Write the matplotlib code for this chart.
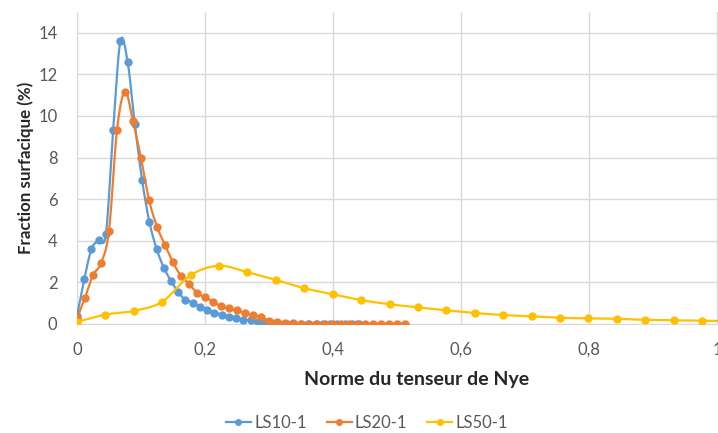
import numpy as np
from matplotlib import pyplot as plt
from matplotlib.ticker import FuncFormatter

# x step of each series (Nye tensor norm)
step_ls10 = 0.0113
step_ls20 = 0.0125
step_ls50 = 0.0444

ls10 = [0.4, 2.15, 3.6, 4.04, 4.34, 9.33, 13.6, 12.6, 9.6, 6.92,
        4.92, 3.62, 2.71, 2.07, 1.52, 1.17, 1.03, 0.83, 0.68, 0.55,
        0.45, 0.36, 0.28, 0.21, 0.17, 0.12, 0.05, 0.03, 0.02, 0.01,
        0.01, 0.01, 0.01, 0.0, 0.0, 0.0, 0.0, 0.0, 0.0, 0.0]
ls20 = [0.27, 1.26, 2.35, 2.93, 4.49, 9.33, 11.17, 9.76, 7.97, 5.96,
        4.68, 3.8, 2.96, 2.31, 1.93, 1.5, 1.28, 1.08, 0.85, 0.75,
        0.67, 0.51, 0.44, 0.32, 0.16, 0.11, 0.06, 0.03, 0.02, 0.02,
        0.02, 0.02, 0.02, 0.02, 0.02, 0.02, 0.02, 0.02, 0.02, 0.02,
        0.02, 0.02]
ls50 = [0.1, 0.45, 0.63, 1.07, 2.35, 2.8, 2.49, 2.12, 1.72, 1.43,
        1.15, 0.95, 0.8, 0.66, 0.53, 0.43, 0.37, 0.3, 0.27, 0.25,
        0.2, 0.18, 0.16, 0.14]

names = ["LS10-1", "LS20-1", "LS50-1"]
colors = ["#5B9BD5", "#ED7D31", "#FFC000"]


def smooth(x, y, n=12):
    # catmull-rom path through the points (like excel "smoothed line")
    x = np.asarray(x, float)
    y = np.asarray(y, float)
    px = np.concatenate([[2 * x[0] - x[1]], x, [2 * x[-1] - x[-2]]])
    py = np.concatenate([[2 * y[0] - y[1]], y, [2 * y[-1] - y[-2]]])
    t = np.linspace(0, 1, n, endpoint=False)
    xs, ys = [], []
    for i in range(1, len(px) - 2):
        for p, out in ((px, xs), (py, ys)):
            p0, p1, p2, p3 = p[i - 1], p[i], p[i + 1], p[i + 2]
            out.extend(0.5 * ((2 * p1) + (-p0 + p2) * t
                              + (2 * p0 - 5 * p1 + 4 * p2 - p3) * t ** 2
                              + (-p0 + 3 * p1 - 3 * p2 + p3) * t ** 3))
    xs.append(x[-1])
    ys.append(y[-1])
    return np.array(xs), np.array(ys)


plt.rcParams['font.family'] = ['Lato', 'DejaVu Sans']

fig = plt.figure(figsize=(7.18, 4.33), dpi=100)
W, H = 718, 433
xmax = 1.06
ax = fig.add_axes([77 / W, (H - 324) / H, xmax * 640 / W, 312 / H])

series = [(step_ls10, ls10), (step_ls20, ls20), (step_ls50, ls50)]
for (step, vals), name, c in zip(series, names, colors):
    x = step * np.arange(len(vals))
    sx, sy = smooth(x, vals)
    ax.plot(sx, sy, color=c, lw=1.6, zorder=3)
    ax.plot(x, vals, 'o', color=c, ms=5, zorder=3)
    ax.plot([], [], '-o', color=c, lw=1.6, ms=4, label=name)

ax.set_xlim(0, xmax)
ax.set_ylim(0, 15)
ax.set_xticks([0, 0.2, 0.4, 0.6, 0.8, 1.0])
ax.set_yticks(range(0, 15, 2))
ax.xaxis.set_major_formatter(FuncFormatter(lambda v, p: ('%g' % round(v, 1)).replace('.', ',')))
ax.grid(True, color='#d9d9d9', lw=1)
ax.set_axisbelow(True)
for s in ['top', 'right']:
    ax.spines[s].set_visible(False)
for s in ['left', 'bottom']:
    ax.spines[s].set_color('#d9d9d9')
ax.tick_params(length=0, labelsize=12, colors='#595959')
ax.tick_params(axis='x', pad=13)
ax.tick_params(axis='y', pad=14)
ax.set_xlabel("Norme du tenseur de Nye", fontsize=14, fontweight='bold', color='#262626', labelpad=9)
ax.set_ylabel("Fraction surfacique (%)", fontsize=12.2, fontweight='bold', color='#262626', labelpad=3)

fig.legend(loc='center', bbox_to_anchor=(367 / W, 1 - 423 / H), ncol=3, frameon=False,
           fontsize=12, handlelength=1.5, columnspacing=1.2, handletextpad=0.2,
           labelcolor='#595959')

fig.savefig("out.png", dpi=100)
